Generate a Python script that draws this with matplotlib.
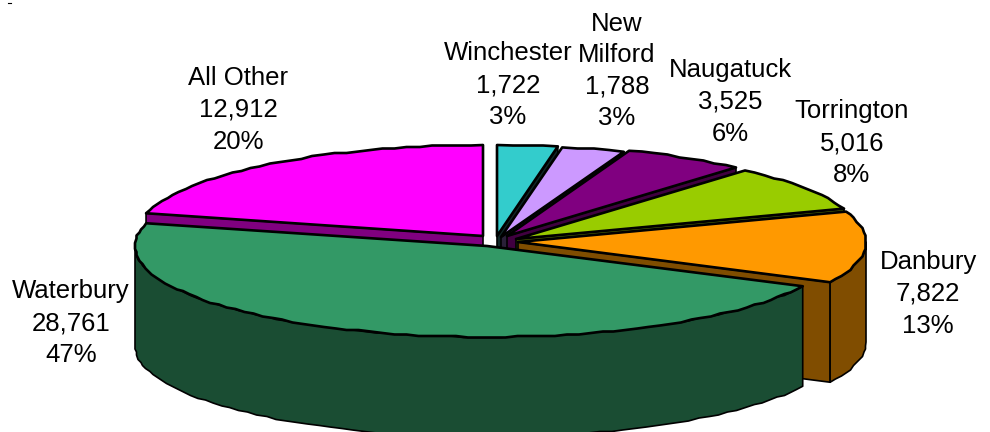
import numpy as np
import matplotlib
matplotlib.use("Agg")
import matplotlib.pyplot as plt
from matplotlib.patches import Polygon

towns = ["Winchester", "New\nMilford", "Naugatuck", "Torrington", "Danbury", "Waterbury", "All Other"]
values = [1722, 1788, 3525, 5016, 7822, 28761, 12912]
percents = [3, 3, 6, 8, 13, 47, 20]
tops = ["#33CCCC", "#CC99FF", "#800080", "#99CC00", "#FF9900", "#339966", "#FF00FF"]
sides = ["#102828", "#2A2038", "#400040", "#4D6600", "#804D00", "#1A4D33", "#800080"]

# where each exploded slice has its point, in pixels
apex = [(497, 236), (501, 237), (507, 236), (516, 239), (518, 242), (487, 246), (483, 236)]
radx = [348, 350, 348, 348, 348, 352, 348]
label_pos = [(508, 85), (617, 71), (730, 102), (852, 143), (928, 294), (71, 323), (238, 110)]

RY = 91
DEPTH = 100
GRID = 1.5

plt.rcParams['font.family'] = ['Liberation Sans', 'DejaVu Sans']

fig = plt.figure(figsize=(9.9, 4.32), dpi=100)
ax = fig.add_axes([0, 0, 1, 1])
ax.set_xlim(0, 990)
ax.set_ylim(432, 0)
ax.axis("off")


def arc(i, a0, a1):
    n = max(2, int((a1 - a0) / 2.0))
    t = np.radians(np.linspace(a0, a1, n))
    x = apex[i][0] + radx[i] * np.sin(t)
    y = apex[i][1] - RY * np.cos(t)
    # the original arcs are rough, so snap the inner points to a coarse grid
    x[1:-1] = np.round(x[1:-1] / GRID) * GRID
    y[1:-1] = np.round(y[1:-1] / GRID) * GRID
    return np.column_stack([x, y])


def shape(pts, color, lw=1.5):
    ax.add_patch(Polygon(pts, closed=True, facecolor=color, edgecolor="black",
                         linewidth=lw, joinstyle="round"))


def down(pts):
    return pts + np.array([0, DEPTH])


total = sum(values)
edges = np.concatenate([[0], np.cumsum(values)]) / total * 360


def draw_slice(i):
    a0, a1 = edges[i], edges[i + 1]
    point = np.array([apex[i]], dtype=float)
    if i == 6:
        wall = arc(i, a0, a0)[:1]
    else:
        wall = arc(i, a1, a1)[:1]
    if i != 5:
        side = np.vstack([point, wall, down(wall), down(point)])
        shape(side, sides[i], 1.2)
    if a1 > 90 and a0 < 270:
        rim = arc(i, max(a0, 90), min(a1, 270))
        shape(np.vstack([rim, down(rim)[::-1]]), sides[i], 1.2)
    shape(np.vstack([point, arc(i, a0, a1)]), tops[i], 1.9)


for i in [6, 0, 1, 2, 3, 4, 5]:
    draw_slice(i)

for i in range(len(towns)):
    txt = "%s\n%s\n%d%%" % (towns[i], format(values[i], ","), percents[i])
    ax.text(label_pos[i][0], label_pos[i][1], txt, ha="center", va="center",
            fontsize=18.5, linespacing=1.4, color="black")

# small stray speck in the corner of the original
ax.plot([8, 11], [2.5, 2.5], color="black", linewidth=0.8)

fig.savefig("out.png", dpi=100)
